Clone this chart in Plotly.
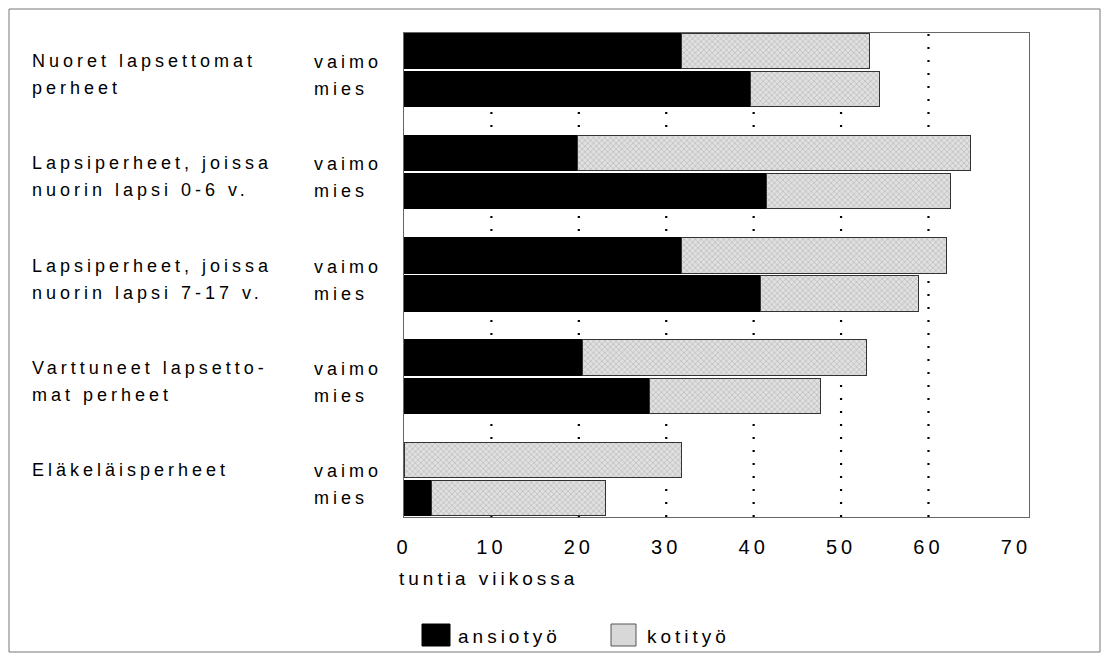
import plotly.graph_objects as go

# ---------------- data ----------------
group_lines = [
    ["Nuoret lapsettomat", "perheet"],
    ["Lapsiperheet, joissa", "nuorin lapsi 0-6 v."],
    ["Lapsiperheet, joissa", "nuorin lapsi 7-17 v."],
    ["Varttuneet lapsetto-", "mat perheet"],
    ["Eläkeläisperheet"],
]
persons = ["vaimo", "mies"]
ansiotyo_vaimo = [31.8, 19.9, 31.7, 20.4, 0.0]
ansiotyo_mies = [39.6, 41.5, 40.8, 28.1, 3.2]
kotityo_vaimo = [21.4, 44.9, 30.4, 32.5, 31.8]
kotityo_mies = [14.8, 21.0, 18.1, 19.5, 19.9]
x_ticks = [0, 10, 20, 30, 40, 50, 60, 70]
grid_vals = [10, 20, 30, 40, 50, 60]
series_names = ["ansiotyö", "kotityö"]
x_title = "tuntia viikossa"

# ---------------- layout geometry (pixels) ----------------
W, H = 1104, 655
PL, PR, PT, PB = 404, 1029, 33, 517
GROUP_STEP = 102.4
OFF = {"vaimo": 17.8, "mies": 56.0}
BAR_W = 35.5
FONT = "Liberation Sans, Arial, sans-serif"


def xp(px):
    return (px - PL) / (PR - PL)


def yp(py):
    return (PB - py) / (PB - PT)


ys, ansio, koti = [], [], []
for g in range(len(group_lines)):
    for p, a_list, k_list in (("vaimo", ansiotyo_vaimo, kotityo_vaimo),
                              ("mies", ansiotyo_mies, kotityo_mies)):
        ys.append(g * GROUP_STEP + OFF[p])
        ansio.append(a_list[g])
        koti.append(k_list[g])

fig = go.Figure()
fig.add_trace(go.Bar(
    x=ansio, y=ys, orientation="h", width=BAR_W, name=series_names[0],
    marker=dict(color="black", line=dict(color="black", width=1)),
    showlegend=False,
))
fig.add_trace(go.Bar(
    x=koti, y=ys, orientation="h", width=BAR_W, name=series_names[1],
    marker=dict(color="#d8d8d8", line=dict(color="#333", width=1),
                pattern=dict(shape="x", size=4, solidity=0.3,
                             fgcolor="#8a8a8a", bgcolor="#e0e0e0")),
    showlegend=False,
))

shapes = []
for v in grid_vals:
    shapes.append(dict(type="line", xref="x", yref="paper", x0=v, x1=v, y0=0, y1=1,
                       layer="below",
                       line=dict(color="black", width=2.2, dash="2px,11px")))
# outer frame
shapes.append(dict(type="rect", xref="paper", yref="paper",
                   x0=xp(9), x1=xp(1100), y0=yp(652), y1=yp(9),
                   line=dict(color="#777", width=1), layer="below"))
# legend swatches
shapes.append(dict(type="rect", xref="paper", yref="paper",
                   x0=xp(422), x1=xp(450), y0=yp(646), y1=yp(624),
                   fillcolor="black", line=dict(color="black", width=1)))
shapes.append(dict(type="rect", xref="paper", yref="paper",
                   x0=xp(611), x1=xp(636), y0=yp(646), y1=yp(624),
                   fillcolor="#d8d8d8", line=dict(color="#555", width=1)))

ann = []
for g, lines in enumerate(group_lines):
    for i, line in enumerate(lines):
        ann.append(dict(text=line, xref="paper", yref="y", x=xp(30),
                        y=g * GROUP_STEP + 28 + 27 * i, xanchor="left",
                        align="left", yanchor="middle", showarrow=False,
                        font=dict(size=18, family=FONT, color="black")))
    for i, p in enumerate(persons):
        ann.append(dict(text=p, xref="paper", yref="y", x=xp(312),
                        y=g * GROUP_STEP + 29 + 27 * i, xanchor="left",
                        align="left", yanchor="middle", showarrow=False,
                        font=dict(size=18, family=FONT, color="black")))
ann.append(dict(text=x_title, xref="paper", yref="paper", x=xp(397), y=yp(578),
                xanchor="left", align="left", yanchor="middle", showarrow=False,
                font=dict(size=19, family=FONT, color="black")))
ann.append(dict(text=series_names[0], xref="paper", yref="paper", x=xp(456), y=yp(636),
                xanchor="left", align="left", yanchor="middle", showarrow=False,
                font=dict(size=19, family=FONT, color="black")))
ann.append(dict(text=series_names[1], xref="paper", yref="paper", x=xp(645), y=yp(636),
                xanchor="left", align="left", yanchor="middle", showarrow=False,
                font=dict(size=19, family=FONT, color="black")))

fig.update_layout(
    width=W, height=H,
    margin=dict(l=PL, r=W - PR, t=PT, b=H - PB, pad=0),
    paper_bgcolor="white", plot_bgcolor="white",
    barmode="stack",
    shapes=shapes, annotations=ann,
    xaxis=dict(range=[0, 71.5], tickvals=x_ticks, showgrid=False, zeroline=False,
               showline=True, mirror=True, linecolor="#666", linewidth=1,
               ticks="outside", ticklen=12, tickcolor="rgba(0,0,0,0)",
               tickfont=dict(size=20, family=FONT, color="black")),
    yaxis=dict(range=[PB - PT + 0.5, 0], showticklabels=False, showgrid=False,
               zeroline=False, showline=True, mirror=True, linecolor="#666",
               linewidth=1, ticks=""),
)

post = ("document.body.style.margin='0';"
        "document.querySelectorAll('.main-svg text').forEach(function(t){"
        "t.style.letterSpacing='4px';});")
fig.write_html("out.html", post_script=post, config={"displayModeBar": False})
